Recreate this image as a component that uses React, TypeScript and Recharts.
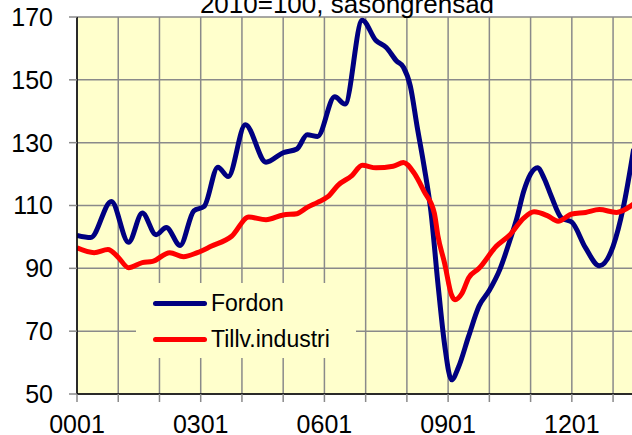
import { LineChart, Line, XAxis, YAxis, CartesianGrid, Legend } from 'recharts'

// months counted from 2000-01
const fordonMonths = [0, 4, 10, 15, 19, 23, 26, 30, 34, 37, 41, 44, 49, 55, 60, 64, 67, 70, 75, 78, 83, 87, 90, 93, 95, 97, 99, 101, 103, 105, 107, 109, 111, 114, 117, 120, 123, 126, 128, 130, 132, 134, 136, 138, 141, 144, 148, 152, 156, 159, 162]
const fordonValues = [100.5, 99.8, 111.3, 98.3, 107.6, 100.7, 103, 97.3, 108.3, 109.7, 122.2, 119.2, 135.7, 123.8, 126.8, 128, 132.5, 132, 144.6, 142.3, 169, 162.5, 160.3, 156, 154, 148, 135, 122.5, 108, 85.5, 65.5, 54.5, 58.5, 68.5, 78, 83, 89.5, 99, 106, 114.5, 120, 122, 118.5, 113, 106, 104.7, 96.5, 90.8, 97, 109.5, 128]

const industriMonths = [0, 5, 9, 12, 15, 19, 22, 27, 31, 35, 39, 45, 50, 55, 60, 64, 67, 70, 73, 76, 80, 83, 87, 92, 95, 98, 101, 104, 105, 107, 109, 110, 112, 114, 117, 122, 126, 130, 133, 137, 140, 144, 148, 152, 157, 162]
const industriValues = [96.5, 95, 96, 93.5, 90.2, 91.8, 92.2, 95, 93.7, 95, 97, 100.2, 106.3, 105.5, 107, 107.4, 109.4, 111, 112.8, 116.5, 119.5, 122.8, 122, 122.5, 123.7, 120.5, 114.5, 107.5, 100.5, 91.5, 81.5, 80, 82, 87, 90, 97, 100.7, 106, 108, 106.7, 105, 107.3, 107.8, 108.7, 107.8, 110.5]

const xTicks = [0, 12, 24, 36, 48, 60, 72, 84, 96, 108, 120, 132, 144, 156]
const xLabels: Record<number, string> = { 0: '0001', 36: '0301', 72: '0601', 108: '0901', 144: '1201' }
const yTicks = [50, 70, 90, 110, 130, 150, 170]

const fordon = fordonMonths.map((m, i) => ({ m, v: fordonValues[i] }))
const industri = industriMonths.map((m, i) => ({ m, v: industriValues[i] }))

const FONT = '"Liberation Sans", Arial, sans-serif'

const LegendBox = ({ payload }: any) => (
  <div style={{ background: '#FFFFCC', width: 220, height: 75, position: 'relative', fontFamily: FONT }}>
    {(payload || []).map((p: any, i: number) => (
      <div key={i} style={{ position: 'absolute', left: 17, top: 8 + i * 36, height: 24, display: 'flex', alignItems: 'center' }}>
        <div style={{ width: 54, height: 5, background: p.color, borderRadius: 3 }} />
        <span style={{ marginLeft: 4, fontSize: 23, color: '#000', lineHeight: '24px' }}>{p.value}</span>
      </div>
    ))}
  </div>
)

export default function App() {
  return (
    <div style={{ position: 'fixed', left: 0, top: 0, width: 632, height: 435, overflow: 'hidden', background: '#fff' }}>
      <LineChart width={633} height={435} margin={{ top: 17, right: 0, bottom: 0, left: 0 }} style={{ fontFamily: FONT }}>
        <CartesianGrid fill="#FFFFCC" fillOpacity={1} stroke="#8a8a8a" strokeWidth={1.5} />
        <XAxis type="number" dataKey="m" domain={[0, 161.8]} allowDataOverflow ticks={xTicks} interval={0}
          tickFormatter={(m: number) => xLabels[m] || ''} height={41} tickSize={8} tickMargin={13}
          tick={{ fill: '#000', fontSize: 25 }} tickLine={{ stroke: '#8a8a8a', strokeWidth: 1.5 }}
          axisLine={{ stroke: '#000', strokeWidth: 1.5 }} />
        <YAxis type="number" domain={[50, 170]} ticks={yTicks} interval={0} width={77} tickSize={8} tickMargin={16}
          tick={{ fill: '#000', fontSize: 25 }} tickLine={{ stroke: '#8a8a8a', strokeWidth: 1.5 }}
          axisLine={{ stroke: '#000', strokeWidth: 1.5 }} />
        <Legend layout="vertical" align="center" verticalAlign="middle" width={220} height={75}
          wrapperStyle={{ left: 136, top: 283, width: 220, height: 75 }} content={<LegendBox />} />
        <Line data={fordon} dataKey="v" name="Fordon" type="monotone" stroke="#000080" strokeWidth={5} dot={false} activeDot={false} isAnimationActive={false} />
        <Line data={industri} dataKey="v" name="Tillv.industri" type="monotone" stroke="#FF0000" strokeWidth={5} dot={false} activeDot={false} isAnimationActive={false} />
        <text x={347} y={13} textAnchor="middle" fontSize={26} fill="#000" fontFamily={FONT}>2010=100, säsongrensad</text>
      </LineChart>
    </div>
  )
}
